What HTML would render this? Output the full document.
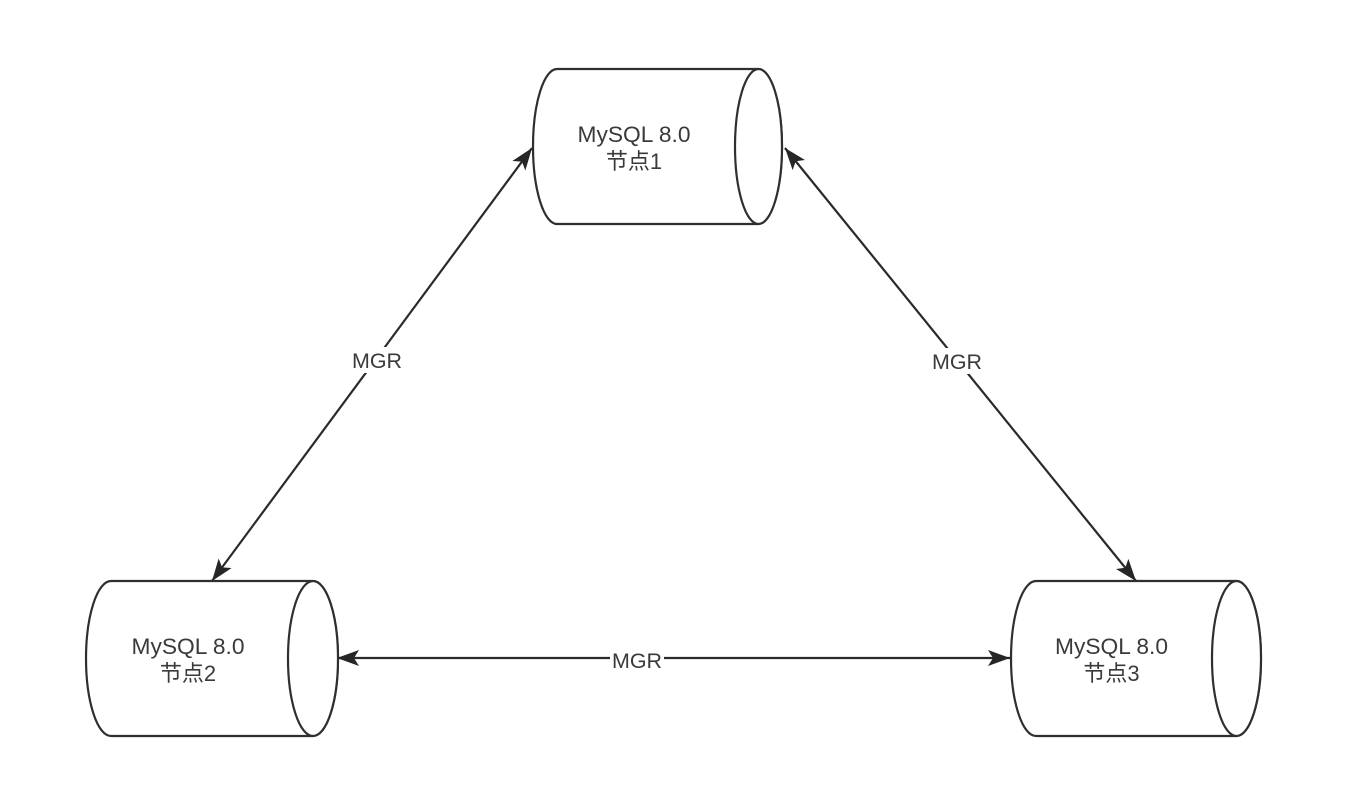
<!DOCTYPE html>
<html>
<head>
<meta charset="utf-8">
<style>
  html, body { margin:0; padding:0; background:#ffffff; }
  body { width:1360px; height:796px; overflow:hidden; }
  svg { display:block; }
  text { font-family: "Liberation Sans", "Noto Sans CJK SC", sans-serif; fill:#3a3a3a; }
</style>
</head>
<body>
<svg width="1360" height="796" viewBox="0 0 1360 796" xmlns="http://www.w3.org/2000/svg">
  <defs>
    <marker id="ah" viewBox="0 0 22 16" refX="22" refY="8" markerWidth="22" markerHeight="16" markerUnits="userSpaceOnUse" orient="auto-start-reverse">
      <path d="M0,0 L22,8 L0,16 L5,8 Z" fill="#262626"/>
    </marker>
  </defs>

  <!-- connectors -->
  <g stroke="#2a2a2a" stroke-width="2.2" fill="none">
    <line x1="532" y1="148" x2="212" y2="581" marker-start="url(#ah)" marker-end="url(#ah)"/>
    <line x1="785" y1="148" x2="1136" y2="581" marker-start="url(#ah)" marker-end="url(#ah)"/>
    <line x1="337" y1="658" x2="1010" y2="658" marker-start="url(#ah)" marker-end="url(#ah)"/>
  </g>

  <!-- connector labels -->
  <rect x="350" y="347" width="54" height="26" fill="#fff"/>
  <text x="377" y="368" font-size="21" text-anchor="middle" textLength="50" lengthAdjust="spacingAndGlyphs">MGR</text>
  <rect x="930" y="348" width="54" height="26" fill="#fff"/>
  <text x="957" y="369" font-size="21" text-anchor="middle" textLength="50" lengthAdjust="spacingAndGlyphs">MGR</text>
  <rect x="610" y="647" width="54" height="26" fill="#fff"/>
  <text x="637" y="668" font-size="21" text-anchor="middle" textLength="50" lengthAdjust="spacingAndGlyphs">MGR</text>

  <!-- cylinder 1 -->
  <g stroke="#2f2f2f" stroke-width="2.2" fill="#fff">
    <path d="M557,69 L758,69 A24,77.5 0 0 1 758,224 L557,224 A24,77.5 0 0 1 557,69 Z"/>
    <ellipse cx="758.5" cy="146.5" rx="23.5" ry="77.5"/>
  </g>
  <text x="634" y="142" font-size="22" text-anchor="middle" textLength="113" lengthAdjust="spacingAndGlyphs">MySQL 8.0</text>
  <text x="634" y="169" font-size="22" text-anchor="middle">节点1</text>

  <!-- cylinder 2 -->
  <g stroke="#2f2f2f" stroke-width="2.2" fill="#fff">
    <path d="M111,581 L313,581 A25,77.5 0 0 1 313,736 L111,736 A25,77.5 0 0 1 111,581 Z"/>
    <ellipse cx="313" cy="658.5" rx="25" ry="77.5"/>
  </g>
  <text x="188" y="654" font-size="22" text-anchor="middle" textLength="113" lengthAdjust="spacingAndGlyphs">MySQL 8.0</text>
  <text x="188" y="681" font-size="22" text-anchor="middle">节点2</text>

  <!-- cylinder 3 -->
  <g stroke="#2f2f2f" stroke-width="2.2" fill="#fff">
    <path d="M1036,581 L1236.5,581 A24.5,77.5 0 0 1 1236.5,736 L1036,736 A25,77.5 0 0 1 1036,581 Z"/>
    <ellipse cx="1236.5" cy="658.5" rx="24.5" ry="77.5"/>
  </g>
  <text x="1111.5" y="654" font-size="22" text-anchor="middle" textLength="113" lengthAdjust="spacingAndGlyphs">MySQL 8.0</text>
  <text x="1111.5" y="681" font-size="22" text-anchor="middle">节点3</text>
</svg>
</body>
</html>
